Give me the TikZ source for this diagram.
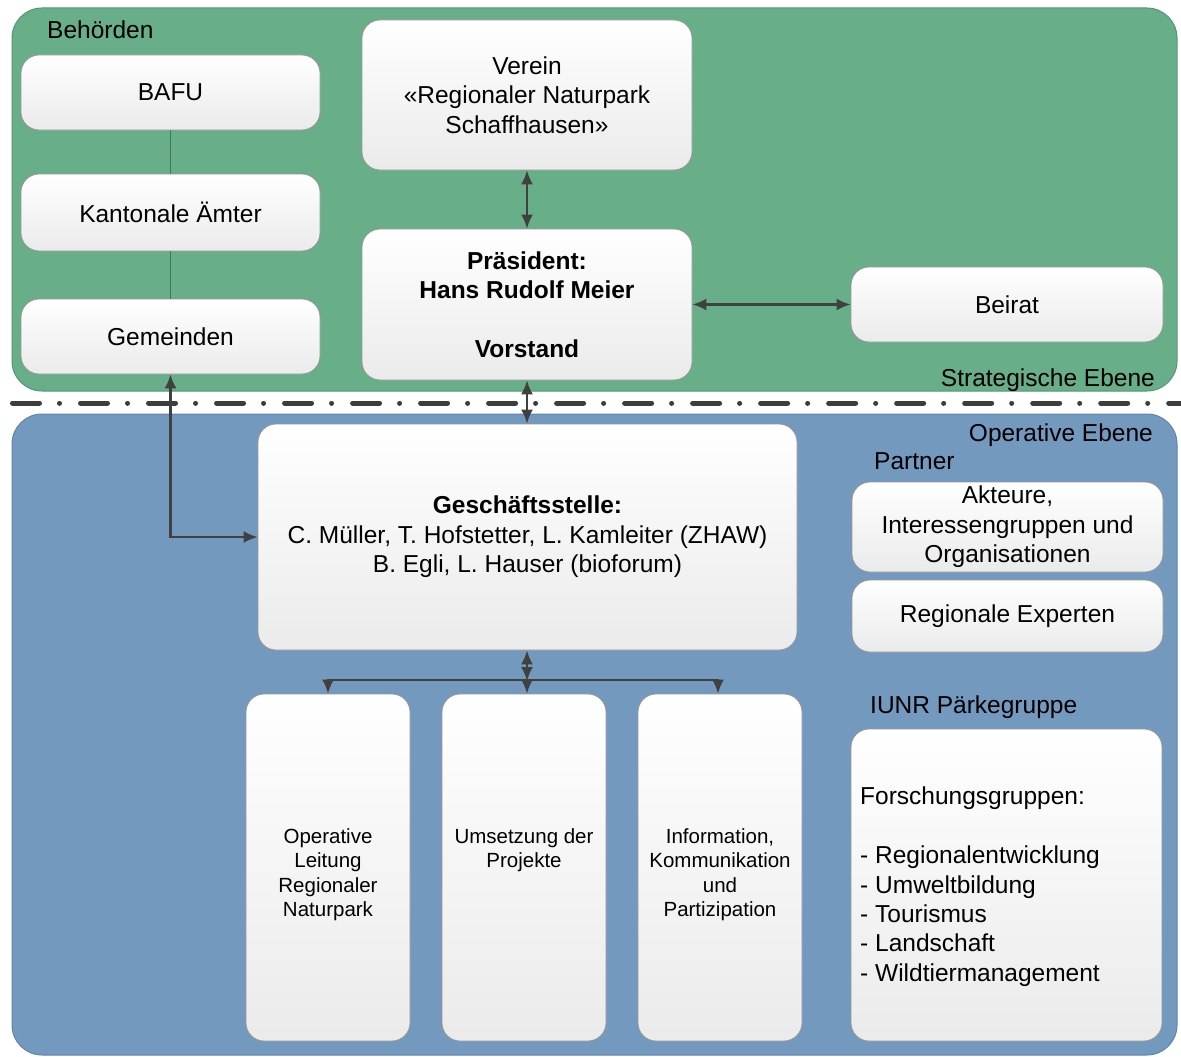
\documentclass[tikz,border=0pt]{standalone}
\usepackage{fontspec}
\setmainfont{Liberation Sans}
\usetikzlibrary{arrows.meta}
\definecolor{pgreen}{RGB}{103,174,137}
\definecolor{pgreenline}{RGB}{84,150,116}
\definecolor{pblue}{RGB}{116,153,191}
\definecolor{pblueline}{RGB}{96,132,170}
\definecolor{arr}{RGB}{64,64,64}
\definecolor{boxline}{RGB}{150,150,150}
\tikzset{
  box/.style={draw=boxline, line width=0.8pt, rounded corners=18pt, top color=white, bottom color=black!8,
    align=center, inner sep=4pt, font=\fontsize{24.5}{29.5}\selectfont},
  smalltext/.style={align=center, inner sep=0pt, anchor=north, font=\fontsize{20.5}{24.5}\selectfont},
  lbl/.style={inner sep=0pt, font=\fontsize{24.5}{29.5}\selectfont},
  conn/.style={draw=arr, line width=2.2pt},
  tip/.tip={Latex[length=14pt,width=12pt]},
}
\begin{document}
\begin{tikzpicture}[x=1pt,y=-1pt]
\useasboundingbox (0,0) rectangle (1181,1057);
% panels
\draw[fill=pgreen, draw=pgreenline, line width=1pt, rounded corners=30pt] (12,8) rectangle (1177,391);
\draw[fill=pblue, draw=pblueline, line width=1pt, rounded corners=30pt] (12,414) rectangle (1177,1055);
% separator
\begin{scope}
\clip (0,390) rectangle (1181,416);
\draw[arr!95!black, line width=5pt, line cap=round, dash pattern=on 27pt off 20pt on 0.01pt off 21pt] (-55.5,403) -- (1240,403);
\end{scope}
% labels
\node[lbl, anchor=base west] (behoerden) at (47,39) {Behörden};
\node[lbl, anchor=base east] (strat) at (1155,386) {Strategische Ebene};
\node[lbl, anchor=base east] (oper) at (1153,441) {Operative Ebene};
\node[lbl, anchor=base west] (partner) at (874,469) {Partner};
\node[lbl, anchor=base west] (iunrlbl) at (870,713) {IUNR Pärkegruppe};
% boxes
\node[box, minimum width=299pt, minimum height=75pt] (bafu) at (170.5,92.5) {BAFU};
\node[box, minimum width=299pt, minimum height=77pt] (kant) at (170.5,212.5) {Kantonale Ämter};
\node[box, minimum width=299pt, minimum height=75pt] (gem) at (170.5,336.5) {Gemeinden};
\node[box, minimum width=330pt, minimum height=150pt] (verein) at (527,95) {Verein\\«Regionaler Naturpark\\Schaffhausen»};
\node[box, minimum width=330pt, minimum height=151pt, font=\fontsize{24.5}{29.5}\selectfont\bfseries] (pres) at (527,304.5) {Präsident:\\Hans Rudolf Meier\\[29.5pt]Vorstand};
\node[box, minimum width=312pt, minimum height=75pt] (beirat) at (1007,304.5) {Beirat};
\node[box, minimum width=539pt, minimum height=226pt] (gs) at (527.5,537) {\textbf{Geschäftsstelle:}\\C. Müller, T. Hofstetter, L. Kamleiter (ZHAW)\\B. Egli, L. Hauser (bioforum)};
\node[box, minimum width=311pt, minimum height=90pt] (akteure) at (1007.5,527) {Akteure,\\Interessengruppen und\\Organisationen};
\node[box, minimum width=311pt, minimum height=72pt] (regexp) at (1007.5,616) {Regionale Experten};
\node[box, minimum width=164pt, minimum height=347pt] (b1) at (328,867.5) {};
\node[box, minimum width=164pt, minimum height=347pt] (b2) at (524,867.5) {};
\node[box, minimum width=164pt, minimum height=347pt] (b3) at (720,867.5) {};
\node[box, minimum width=311pt, minimum height=312pt] (iunr) at (1006.5,885) {};
% texts in lower boxes
\node[smalltext] (t1) at (328,828) {Operative\\Leitung\\Regionaler\\Naturpark};
\node[smalltext] (t2) at (524,828) {Umsetzung der\\Projekte};
\node[smalltext] (t3) at (720,828) {Information,\\Kommunikation\\und\\Partizipation};
\node[lbl, anchor=north west, align=left, font=\fontsize{24.5}{29.4}\selectfont] (forsch) at (860,787) {Forschungsgruppen:\\[29.4pt]- Regionalentwicklung\\- Umweltbildung\\- Tourismus\\- Landschaft\\- Wildtiermanagement};
% connectors
\draw[pgreenline!80!black, line width=1pt] (bafu.south) -- (kant.north);
\draw[pgreenline!80!black, line width=1pt] (kant.south) -- (gem.north);
\draw[conn, tip-tip] (verein.south) -- (pres.north);
\draw[conn, tip-tip] (pres.east) -- (beirat.west);
\draw[conn, tip-tip] (pres.south) -- (pres.south |- gs.north);
\draw[conn, tip-tip] (gem.south) |- (gs.west);
\coordinate (junc) at (527,680);
\draw[conn, tip-tip] (gs.south -| junc) -- ([yshift=-1pt]junc);
\draw[conn, -tip] (junc) -| (b1.north);
\draw[conn, -tip] (junc) -- (junc |- b2.north);
\draw[conn, -tip] (junc) -| ([xshift=-2pt]b3.north);
\end{tikzpicture}
\end{document}
